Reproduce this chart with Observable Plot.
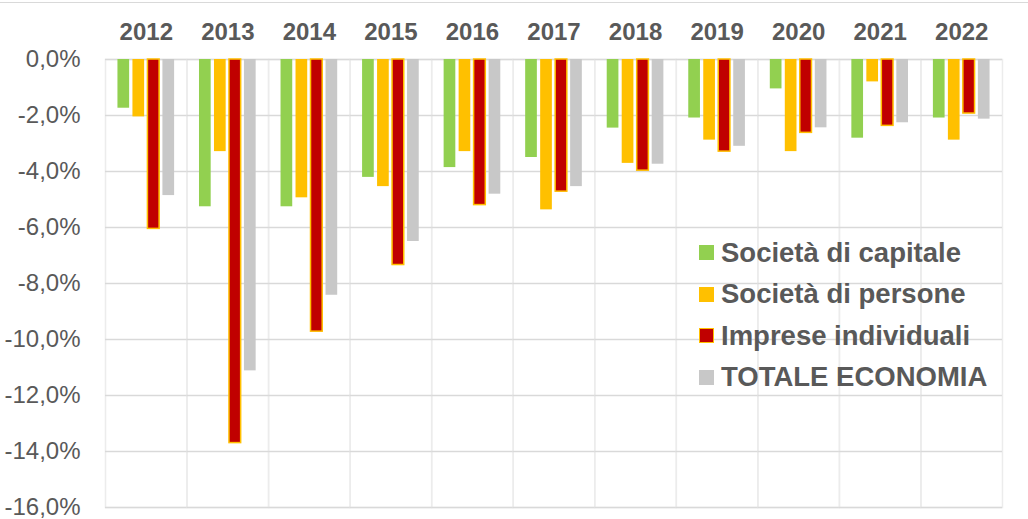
<!DOCTYPE html>
<html>
<head>
<meta charset="utf-8">
<script src="https://cdn.jsdelivr.net/npm/d3@7"></script>
<script src="https://cdn.jsdelivr.net/npm/@observablehq/plot@0.6"></script>
<style>
  html, body { margin: 0; padding: 0; background: #fff; }
  #wrap { position: relative; width: 1028px; height: 519px; font-family: "Liberation Sans", Arial, sans-serif; }
  #topline { position: absolute; left: 0; top: 2px; width: 1028px; height: 1px; background: #d9d9d9; }
  #legend { position: absolute; left: 699px; top: 232px; color: #595959; font-weight: bold; font-size: 27.5px; }
  #legend .row { display: flex; align-items: center; height: 41.5px; white-space: nowrap; }
  #legend .sw { width: 15px; height: 15px; margin-right: 7px; box-sizing: border-box; flex: none; }
  svg g[aria-label="fx-axis tick label"] text { font-weight: bold; }
</style>
</head>
<body>
<div id="wrap"><div id="topline"></div><div id="chart"></div><div id="legend"></div></div>
<script>
const years = ["2012","2013","2014","2015","2016","2017","2018","2019","2020","2021","2022"];
const series = ["Società di capitale","Società di persone","Imprese individuali","TOTALE ECONOMIA"];
const colors = ["#92d050","#ffc000","#c00000","#c8c8c8"];
const capitale    = [-1.74,-5.26,-5.26,-4.21,-3.86,-3.50,-2.45,-2.09,-1.05,-2.81,-2.09];
const persone     = [-2.05,-3.29,-4.94,-4.54,-3.29,-5.37,-3.71,-2.88,-3.29,-0.80,-2.88];
const individuali = [-6.05,-13.70,-9.72,-7.34,-5.20,-4.72,-3.97,-3.29,-2.62,-2.37,-1.93];
const totale      = [-4.86,-11.12,-8.42,-6.50,-4.81,-4.54,-3.74,-3.10,-2.44,-2.26,-2.13];
const yTicks = [0,-2,-4,-6,-8,-10,-12,-14,-16];
const yTickLabels = ["0,0%","-2,0%","-4,0%","-6,0%","-8,0%","-10,0%","-12,0%","-14,0%","-16,0%"];

const values = [capitale, persone, individuali, totale];
const data = [];
years.forEach((y, i) => series.forEach((s, j) => data.push({year: y, series: s, value: values[j][i]})));

const chart = Plot.plot({
  width: 1028,
  height: 519,
  marginLeft: 105,
  marginRight: 26,
  marginTop: 59,
  marginBottom: 12,
  style: {fontFamily: "'Liberation Sans', Arial, sans-serif", background: "transparent"},
  fx: {domain: years, padding: 0, round: false, axis: null, label: null},
  x: {domain: series, paddingInner: 0.22, paddingOuter: 0.83, axis: null, round: false},
  y: {domain: [-16, 0], axis: null, label: null},
  color: {domain: series, range: colors},
  marks: [
    Plot.frame({stroke: "#ececec", strokeWidth: 1.5}),
    Plot.gridY(yTicks, {stroke: "#d9d9d9", strokeOpacity: 1, strokeWidth: 1.5}),
    Plot.barY(data, {fx: "year", x: "series", y: "value", fill: "series"}),
    Plot.barY(data.filter(d => d.series === series[2]), {fx: "year", x: "series", y: "value", fill: colors[2], stroke: colors[1], strokeWidth: 1.5}),
    Plot.axisFx({anchor: "top", tickSize: 0, tickPadding: 20, fontSize: 24, fill: "#595959", label: null}),
    Plot.axisY({ticks: yTicks, tickSize: 0, tickPadding: 25, fontSize: 24, fill: "#595959", label: null,
      tickFormat: d => yTickLabels[yTicks.indexOf(d)]})
  ]
});
document.getElementById("chart").appendChild(chart);

const legend = document.getElementById("legend");
series.forEach((s, i) => {
  const row = document.createElement("div");
  row.className = "row";
  const sw = document.createElement("span");
  sw.className = "sw";
  sw.style.background = colors[i];
  if (i === 2) sw.style.border = "1.5px solid " + colors[1];
  const t = document.createElement("span");
  t.textContent = s;
  row.appendChild(sw);
  row.appendChild(t);
  legend.appendChild(row);
});
</script>
</body>
</html>
